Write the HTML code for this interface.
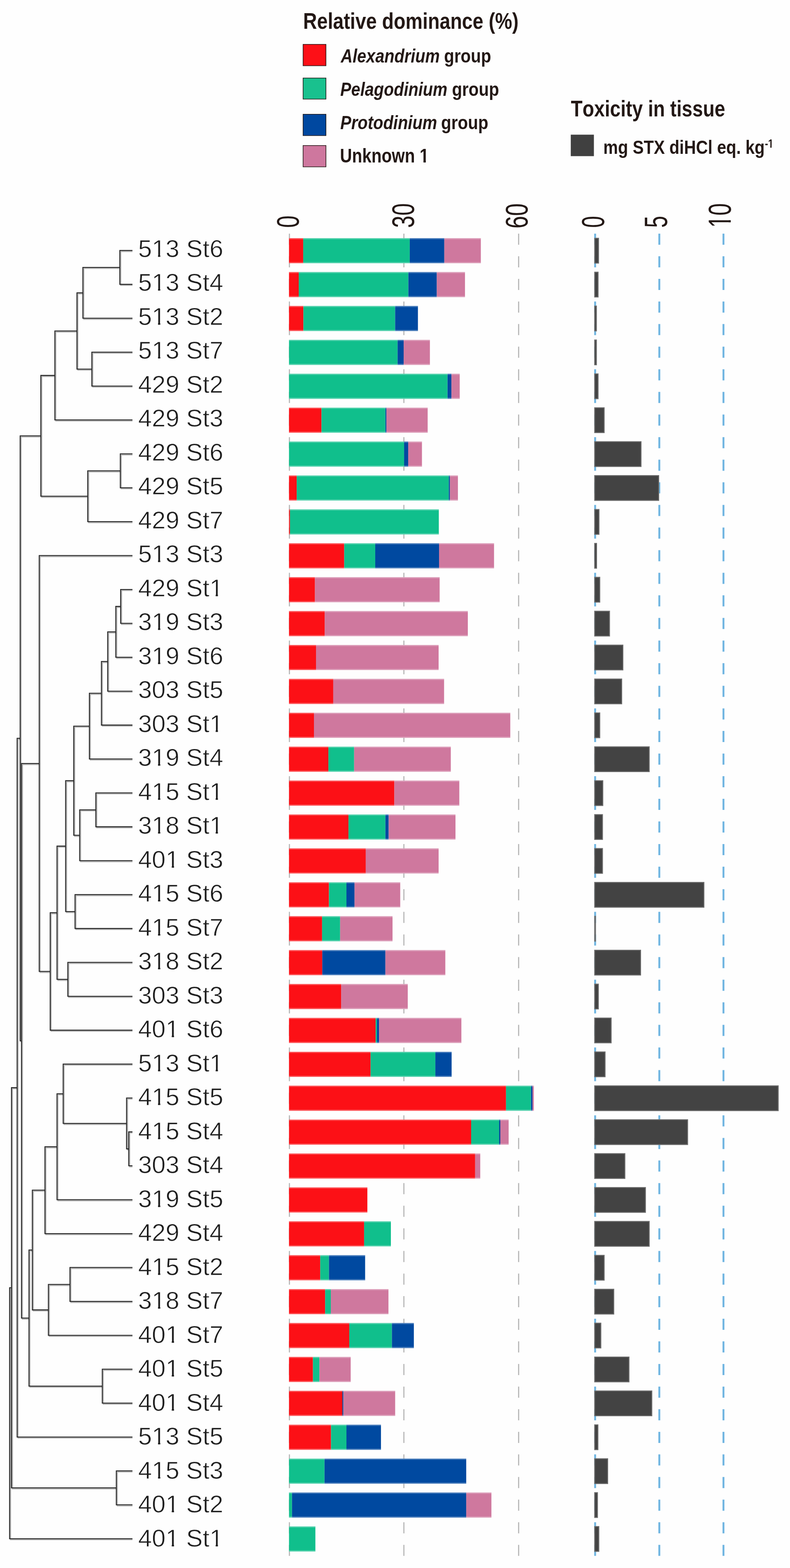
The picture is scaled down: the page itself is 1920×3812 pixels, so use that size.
<!DOCTYPE html><html><head><meta charset="utf-8"><title>Relative dominance and toxicity</title><style>html,body{margin:0;padding:0;background:#fefefe;}svg{display:block;}text{font-kerning:none;}</style></head><body>
<svg width="1920" height="3812" viewBox="0 0 1920 3812">
<rect width="1920" height="3812" fill="#fefefe"/>
<g transform="translate(736.78,69.80) scale(0.8404,1)"><text x="0" y="0" font-family='"Liberation Sans", Arial, sans-serif' font-size="55.5" font-weight="bold" font-style="normal" fill="#231815">Relative dominance (%)</text></g>
<rect x="736.6" y="107.9" width="55.6" height="51.9" fill="#fd1017" stroke="#231815" stroke-width="1.5"/>
<rect x="736.6" y="189.7" width="55.6" height="51.2" fill="#19c18e" stroke="#231815" stroke-width="1.5"/>
<rect x="736.6" y="277.8" width="55.6" height="51.8" fill="#0048a0" stroke="#231815" stroke-width="1.5"/>
<rect x="736.6" y="353.8" width="55.6" height="51.8" fill="#ce779e" stroke="#231815" stroke-width="1.5"/>
<g transform="translate(828.31,151.90) scale(0.8449,1)"><text x="0" y="0" font-family='"Liberation Sans", Arial, sans-serif' font-size="47" font-weight="bold" font-style="italic" fill="#231815">Alexandrium</text></g>
<g transform="translate(1079.24,151.90) scale(0.8586,1)"><text x="0" y="0" font-family='"Liberation Sans", Arial, sans-serif' font-size="47" font-weight="bold" font-style="normal" fill="#231815">group</text></g>
<g transform="translate(827.10,233.20) scale(0.8446,1)"><text x="0" y="0" font-family='"Liberation Sans", Arial, sans-serif' font-size="47" font-weight="bold" font-style="italic" fill="#231815">Pelagodinium</text></g>
<g transform="translate(1098.44,233.20) scale(0.8594,1)"><text x="0" y="0" font-family='"Liberation Sans", Arial, sans-serif' font-size="47" font-weight="bold" font-style="normal" fill="#231815">group</text></g>
<g transform="translate(827.10,313.80) scale(0.8505,1)"><text x="0" y="0" font-family='"Liberation Sans", Arial, sans-serif' font-size="47" font-weight="bold" font-style="italic" fill="#231815">Protodinium</text></g>
<g transform="translate(1071.94,313.80) scale(0.8625,1)"><text x="0" y="0" font-family='"Liberation Sans", Arial, sans-serif' font-size="47" font-weight="bold" font-style="normal" fill="#231815">group</text></g>
<g transform="translate(826.27,395.30) scale(0.8528,1)"><text x="0" y="0" font-family='"Liberation Sans", Arial, sans-serif' font-size="47.5" font-weight="bold" font-style="normal" fill="#231815">Unknown 1</text><rect x="229.01" y="-5.92" width="8.91" height="6.92" fill="#fefefe"/><rect x="244.62" y="-5.92" width="9.21" height="6.92" fill="#fefefe"/></g>
<g transform="translate(1387.48,282.90) scale(0.8434,1)"><text x="0" y="0" font-family='"Liberation Sans", Arial, sans-serif' font-size="54.8" font-weight="bold" font-style="normal" fill="#231815">Toxicity in tissue</text></g>
<rect x="1387.2" y="327.4" width="56.2" height="52.2" fill="#404040"/>
<g transform="translate(1466.36,373.70) scale(0.8536,1)"><text x="0" y="0" font-family='"Liberation Sans", Arial, sans-serif' font-size="47" font-weight="bold" font-style="normal" fill="#231815">mg STX diHCl eq. kg</text></g>
<g transform="translate(1858.89,359.10) scale(0.8127,1)"><text x="0" y="0" font-family='"Liberation Sans", Arial, sans-serif' font-size="28.7" font-weight="bold" font-style="normal" fill="#231815">-1</text><rect x="10.82" y="-3.97" width="5.38" height="4.97" fill="#fefefe"/><rect x="20.25" y="-3.97" width="5.56" height="4.97" fill="#fefefe"/></g>
<line x1="703.4" y1="568" x2="703.4" y2="3782.5" stroke="#bababa" stroke-width="2.9" stroke-dasharray="27 27.96"/>
<line x1="981.6" y1="568" x2="981.6" y2="3782.5" stroke="#bababa" stroke-width="2.9" stroke-dasharray="27 27.96"/>
<line x1="1260.5" y1="568" x2="1260.5" y2="3782.5" stroke="#bababa" stroke-width="2.9" stroke-dasharray="27 27.96"/>
<line x1="1446.4" y1="568" x2="1446.4" y2="3782.5" stroke="#70b5e1" stroke-width="4.6" stroke-dasharray="27 27.96"/>
<line x1="1602.4" y1="568" x2="1602.4" y2="3782.5" stroke="#70b5e1" stroke-width="4.6" stroke-dasharray="27 27.96"/>
<line x1="1758.3" y1="568" x2="1758.3" y2="3782.5" stroke="#70b5e1" stroke-width="4.6" stroke-dasharray="27 27.96"/>
<g transform="translate(725.95,553.79) rotate(-90) scale(0.6970,1)"><text x="0" y="0" font-family='"Liberation Sans", Arial, sans-serif' font-size="76.84" fill="#231815">0</text></g>
<g transform="translate(1005.85,553.94) rotate(-90) scale(0.7017,1)"><text x="0" y="0" font-family='"Liberation Sans", Arial, sans-serif' font-size="76.41" fill="#231815">30</text></g>
<g transform="translate(1282.05,555.50) rotate(-90) scale(0.7193,1)"><text x="0" y="0" font-family='"Liberation Sans", Arial, sans-serif' font-size="76.55" fill="#231815">60</text></g>
<g transform="translate(1467.75,553.72) rotate(-90) scale(0.6700,1)"><text x="0" y="0" font-family='"Liberation Sans", Arial, sans-serif' font-size="77.12" fill="#231815">0</text></g>
<g transform="translate(1621.24,553.79) rotate(-90) scale(0.6732,1)"><text x="0" y="0" font-family='"Liberation Sans", Arial, sans-serif' font-size="77.39" fill="#231815">5</text></g>
<g transform="translate(1776.15,553.76) rotate(-90) scale(0.6954,1)"><text x="0" y="0" font-family='"Liberation Sans", Arial, sans-serif' font-size="77.12" fill="#231815">10</text><rect x="4.14" y="-6.95" width="14.99" height="7.95" fill="#fefefe"/><rect x="26.47" y="-6.95" width="16.83" height="7.95" fill="#fefefe"/></g>
<rect x="702.4" y="578.95" width="34.5" height="61.0" fill="#fc1016"/>
<rect x="736.9" y="578.95" width="259.0" height="61.0" fill="#10bf8c"/>
<rect x="995.9" y="578.95" width="83.9" height="61.0" fill="#0049a0"/>
<rect x="1079.8" y="578.95" width="88.8" height="61.0" fill="#cf789e"/>
<rect x="702.4" y="578.95" width="466.2" height="2.8" fill="#fff" opacity="0.28"/>
<rect x="702.4" y="637.15" width="466.2" height="2.8" fill="#fff" opacity="0.28"/>
<rect x="702.4" y="661.37" width="23.6" height="61.0" fill="#fc1016"/>
<rect x="726.0" y="661.37" width="266.5" height="61.0" fill="#10bf8c"/>
<rect x="992.5" y="661.37" width="69.1" height="61.0" fill="#0049a0"/>
<rect x="1061.6" y="661.37" width="68.5" height="61.0" fill="#cf789e"/>
<rect x="702.4" y="661.37" width="427.7" height="2.8" fill="#fff" opacity="0.28"/>
<rect x="702.4" y="719.57" width="427.7" height="2.8" fill="#fff" opacity="0.28"/>
<rect x="702.4" y="743.79" width="35.0" height="61.0" fill="#fc1016"/>
<rect x="737.4" y="743.79" width="223.0" height="61.0" fill="#10bf8c"/>
<rect x="960.4" y="743.79" width="55.3" height="61.0" fill="#0049a0"/>
<rect x="702.4" y="743.79" width="313.3" height="2.8" fill="#fff" opacity="0.28"/>
<rect x="702.4" y="801.99" width="313.3" height="2.8" fill="#fff" opacity="0.28"/>
<rect x="702.4" y="826.21" width="263.9" height="61.0" fill="#10bf8c"/>
<rect x="966.3" y="826.21" width="14.8" height="61.0" fill="#0049a0"/>
<rect x="981.1" y="826.21" width="63.7" height="61.0" fill="#cf789e"/>
<rect x="702.4" y="826.21" width="342.4" height="2.8" fill="#fff" opacity="0.28"/>
<rect x="702.4" y="884.41" width="342.4" height="2.8" fill="#fff" opacity="0.28"/>
<rect x="702.4" y="908.63" width="385.3" height="61.0" fill="#10bf8c"/>
<rect x="1087.7" y="908.63" width="9.4" height="61.0" fill="#0049a0"/>
<rect x="1097.1" y="908.63" width="20.2" height="61.0" fill="#cf789e"/>
<rect x="702.4" y="908.63" width="414.9" height="2.8" fill="#fff" opacity="0.28"/>
<rect x="702.4" y="966.83" width="414.9" height="2.8" fill="#fff" opacity="0.28"/>
<rect x="702.4" y="991.05" width="78.9" height="61.0" fill="#fc1016"/>
<rect x="781.3" y="991.05" width="155.4" height="61.0" fill="#10bf8c"/>
<rect x="936.7" y="991.05" width="2.5" height="61.0" fill="#0049a0"/>
<rect x="939.2" y="991.05" width="100.2" height="61.0" fill="#cf789e"/>
<rect x="702.4" y="991.05" width="337.0" height="2.8" fill="#fff" opacity="0.28"/>
<rect x="702.4" y="1049.25" width="337.0" height="2.8" fill="#fff" opacity="0.28"/>
<rect x="702.4" y="1073.47" width="279.7" height="61.0" fill="#10bf8c"/>
<rect x="982.1" y="1073.47" width="9.9" height="61.0" fill="#0049a0"/>
<rect x="992.0" y="1073.47" width="33.5" height="61.0" fill="#cf789e"/>
<rect x="702.4" y="1073.47" width="323.1" height="2.8" fill="#fff" opacity="0.28"/>
<rect x="702.4" y="1131.67" width="323.1" height="2.8" fill="#fff" opacity="0.28"/>
<rect x="702.4" y="1155.89" width="18.7" height="61.0" fill="#fc1016"/>
<rect x="721.1" y="1155.89" width="369.6" height="61.0" fill="#10bf8c"/>
<rect x="1090.7" y="1155.89" width="2.9" height="61.0" fill="#0049a0"/>
<rect x="1093.6" y="1155.89" width="19.3" height="61.0" fill="#cf789e"/>
<rect x="702.4" y="1155.89" width="410.5" height="2.8" fill="#fff" opacity="0.28"/>
<rect x="702.4" y="1214.09" width="410.5" height="2.8" fill="#fff" opacity="0.28"/>
<rect x="702.4" y="1238.31" width="2.4" height="61.0" fill="#fc1016"/>
<rect x="704.8" y="1238.31" width="361.7" height="61.0" fill="#10bf8c"/>
<rect x="702.4" y="1238.31" width="364.1" height="2.8" fill="#fff" opacity="0.28"/>
<rect x="702.4" y="1296.51" width="364.1" height="2.8" fill="#fff" opacity="0.28"/>
<rect x="702.4" y="1320.73" width="134.2" height="61.0" fill="#fc1016"/>
<rect x="836.6" y="1320.73" width="75.4" height="61.0" fill="#10bf8c"/>
<rect x="912.0" y="1320.73" width="155.0" height="61.0" fill="#0049a0"/>
<rect x="1067.0" y="1320.73" width="133.7" height="61.0" fill="#cf789e"/>
<rect x="702.4" y="1320.73" width="498.3" height="2.8" fill="#fff" opacity="0.28"/>
<rect x="702.4" y="1378.93" width="498.3" height="2.8" fill="#fff" opacity="0.28"/>
<rect x="702.4" y="1403.15" width="63.1" height="61.0" fill="#fc1016"/>
<rect x="765.5" y="1403.15" width="303.0" height="61.0" fill="#cf789e"/>
<rect x="702.4" y="1403.15" width="366.1" height="2.8" fill="#fff" opacity="0.28"/>
<rect x="702.4" y="1461.35" width="366.1" height="2.8" fill="#fff" opacity="0.28"/>
<rect x="702.4" y="1485.57" width="86.8" height="61.0" fill="#fc1016"/>
<rect x="789.2" y="1485.57" width="347.8" height="61.0" fill="#cf789e"/>
<rect x="702.4" y="1485.57" width="434.6" height="2.8" fill="#fff" opacity="0.28"/>
<rect x="702.4" y="1543.77" width="434.6" height="2.8" fill="#fff" opacity="0.28"/>
<rect x="702.4" y="1567.99" width="65.6" height="61.0" fill="#fc1016"/>
<rect x="768.0" y="1567.99" width="298.0" height="61.0" fill="#cf789e"/>
<rect x="702.4" y="1567.99" width="363.6" height="2.8" fill="#fff" opacity="0.28"/>
<rect x="702.4" y="1626.19" width="363.6" height="2.8" fill="#fff" opacity="0.28"/>
<rect x="702.4" y="1650.41" width="107.5" height="61.0" fill="#fc1016"/>
<rect x="809.9" y="1650.41" width="269.4" height="61.0" fill="#cf789e"/>
<rect x="702.4" y="1650.41" width="376.9" height="2.8" fill="#fff" opacity="0.28"/>
<rect x="702.4" y="1708.61" width="376.9" height="2.8" fill="#fff" opacity="0.28"/>
<rect x="702.4" y="1732.83" width="60.6" height="61.0" fill="#fc1016"/>
<rect x="763.0" y="1732.83" width="477.2" height="61.0" fill="#cf789e"/>
<rect x="702.4" y="1732.83" width="537.8" height="2.8" fill="#fff" opacity="0.28"/>
<rect x="702.4" y="1791.03" width="537.8" height="2.8" fill="#fff" opacity="0.28"/>
<rect x="702.4" y="1815.25" width="95.7" height="61.0" fill="#fc1016"/>
<rect x="798.1" y="1815.25" width="62.6" height="61.0" fill="#10bf8c"/>
<rect x="860.7" y="1815.25" width="234.9" height="61.0" fill="#cf789e"/>
<rect x="702.4" y="1815.25" width="393.2" height="2.8" fill="#fff" opacity="0.28"/>
<rect x="702.4" y="1873.45" width="393.2" height="2.8" fill="#fff" opacity="0.28"/>
<rect x="702.4" y="1897.67" width="256.0" height="61.0" fill="#fc1016"/>
<rect x="958.4" y="1897.67" width="157.9" height="61.0" fill="#cf789e"/>
<rect x="702.4" y="1897.67" width="413.9" height="2.8" fill="#fff" opacity="0.28"/>
<rect x="702.4" y="1955.87" width="413.9" height="2.8" fill="#fff" opacity="0.28"/>
<rect x="702.4" y="1980.09" width="144.5" height="61.0" fill="#fc1016"/>
<rect x="846.9" y="1980.09" width="89.8" height="61.0" fill="#10bf8c"/>
<rect x="936.7" y="1980.09" width="7.9" height="61.0" fill="#0049a0"/>
<rect x="944.6" y="1980.09" width="162.4" height="61.0" fill="#cf789e"/>
<rect x="702.4" y="1980.09" width="404.6" height="2.8" fill="#fff" opacity="0.28"/>
<rect x="702.4" y="2038.29" width="404.6" height="2.8" fill="#fff" opacity="0.28"/>
<rect x="702.4" y="2062.51" width="186.5" height="61.0" fill="#fc1016"/>
<rect x="888.9" y="2062.51" width="177.1" height="61.0" fill="#cf789e"/>
<rect x="702.4" y="2062.51" width="363.6" height="2.8" fill="#fff" opacity="0.28"/>
<rect x="702.4" y="2120.71" width="363.6" height="2.8" fill="#fff" opacity="0.28"/>
<rect x="702.4" y="2144.93" width="97.1" height="61.0" fill="#fc1016"/>
<rect x="799.5" y="2144.93" width="42.5" height="61.0" fill="#10bf8c"/>
<rect x="842.0" y="2144.93" width="19.7" height="61.0" fill="#0049a0"/>
<rect x="861.7" y="2144.93" width="111.0" height="61.0" fill="#cf789e"/>
<rect x="702.4" y="2144.93" width="270.3" height="2.8" fill="#fff" opacity="0.28"/>
<rect x="702.4" y="2203.13" width="270.3" height="2.8" fill="#fff" opacity="0.28"/>
<rect x="702.4" y="2227.35" width="80.4" height="61.0" fill="#fc1016"/>
<rect x="782.8" y="2227.35" width="43.9" height="61.0" fill="#10bf8c"/>
<rect x="826.7" y="2227.35" width="127.3" height="61.0" fill="#cf789e"/>
<rect x="702.4" y="2227.35" width="251.6" height="2.8" fill="#fff" opacity="0.28"/>
<rect x="702.4" y="2285.55" width="251.6" height="2.8" fill="#fff" opacity="0.28"/>
<rect x="702.4" y="2309.77" width="80.9" height="61.0" fill="#fc1016"/>
<rect x="783.3" y="2309.77" width="153.4" height="61.0" fill="#0049a0"/>
<rect x="936.7" y="2309.77" width="145.6" height="61.0" fill="#cf789e"/>
<rect x="702.4" y="2309.77" width="379.9" height="2.8" fill="#fff" opacity="0.28"/>
<rect x="702.4" y="2367.97" width="379.9" height="2.8" fill="#fff" opacity="0.28"/>
<rect x="702.4" y="2392.19" width="126.7" height="61.0" fill="#fc1016"/>
<rect x="829.1" y="2392.19" width="161.9" height="61.0" fill="#cf789e"/>
<rect x="702.4" y="2392.19" width="288.6" height="2.8" fill="#fff" opacity="0.28"/>
<rect x="702.4" y="2450.39" width="288.6" height="2.8" fill="#fff" opacity="0.28"/>
<rect x="702.4" y="2474.61" width="210.5" height="61.0" fill="#fc1016"/>
<rect x="912.9" y="2474.61" width="3.2" height="61.0" fill="#10bf8c"/>
<rect x="916.1" y="2474.61" width="4.9" height="61.0" fill="#0049a0"/>
<rect x="921.0" y="2474.61" width="200.3" height="61.0" fill="#cf789e"/>
<rect x="702.4" y="2474.61" width="418.9" height="2.8" fill="#fff" opacity="0.28"/>
<rect x="702.4" y="2532.81" width="418.9" height="2.8" fill="#fff" opacity="0.28"/>
<rect x="702.4" y="2557.03" width="198.3" height="61.0" fill="#fc1016"/>
<rect x="900.7" y="2557.03" width="157.4" height="61.0" fill="#10bf8c"/>
<rect x="1058.1" y="2557.03" width="39.5" height="61.0" fill="#0049a0"/>
<rect x="702.4" y="2557.03" width="395.2" height="2.8" fill="#fff" opacity="0.28"/>
<rect x="702.4" y="2615.23" width="395.2" height="2.8" fill="#fff" opacity="0.28"/>
<rect x="702.4" y="2639.45" width="527.4" height="61.0" fill="#fc1016"/>
<rect x="1229.8" y="2639.45" width="60.7" height="61.0" fill="#10bf8c"/>
<rect x="1290.5" y="2639.45" width="3.5" height="61.0" fill="#0049a0"/>
<rect x="1294.0" y="2639.45" width="3.4" height="61.0" fill="#cf789e"/>
<rect x="702.4" y="2639.45" width="595.0" height="2.8" fill="#fff" opacity="0.28"/>
<rect x="702.4" y="2697.65" width="595.0" height="2.8" fill="#fff" opacity="0.28"/>
<rect x="702.4" y="2721.87" width="442.6" height="61.0" fill="#fc1016"/>
<rect x="1145.0" y="2721.87" width="68.0" height="61.0" fill="#10bf8c"/>
<rect x="1213.0" y="2721.87" width="3.0" height="61.0" fill="#0049a0"/>
<rect x="1216.0" y="2721.87" width="20.2" height="61.0" fill="#cf789e"/>
<rect x="702.4" y="2721.87" width="533.8" height="2.8" fill="#fff" opacity="0.28"/>
<rect x="702.4" y="2780.07" width="533.8" height="2.8" fill="#fff" opacity="0.28"/>
<rect x="702.4" y="2804.29" width="452.4" height="61.0" fill="#fc1016"/>
<rect x="1154.8" y="2804.29" width="12.4" height="61.0" fill="#cf789e"/>
<rect x="702.4" y="2804.29" width="464.8" height="2.8" fill="#fff" opacity="0.28"/>
<rect x="702.4" y="2862.49" width="464.8" height="2.8" fill="#fff" opacity="0.28"/>
<rect x="702.4" y="2886.71" width="190.4" height="61.0" fill="#fc1016"/>
<rect x="702.4" y="2886.71" width="190.4" height="2.8" fill="#fff" opacity="0.28"/>
<rect x="702.4" y="2944.91" width="190.4" height="2.8" fill="#fff" opacity="0.28"/>
<rect x="702.4" y="2969.13" width="182.5" height="61.0" fill="#fc1016"/>
<rect x="884.9" y="2969.13" width="65.1" height="61.0" fill="#10bf8c"/>
<rect x="702.4" y="2969.13" width="247.6" height="2.8" fill="#fff" opacity="0.28"/>
<rect x="702.4" y="3027.33" width="247.6" height="2.8" fill="#fff" opacity="0.28"/>
<rect x="702.4" y="3051.55" width="75.9" height="61.0" fill="#fc1016"/>
<rect x="778.3" y="3051.55" width="21.2" height="61.0" fill="#10bf8c"/>
<rect x="799.5" y="3051.55" width="87.9" height="61.0" fill="#0049a0"/>
<rect x="702.4" y="3051.55" width="185.0" height="2.8" fill="#fff" opacity="0.28"/>
<rect x="702.4" y="3109.75" width="185.0" height="2.8" fill="#fff" opacity="0.28"/>
<rect x="702.4" y="3133.97" width="87.8" height="61.0" fill="#fc1016"/>
<rect x="790.2" y="3133.97" width="13.8" height="61.0" fill="#10bf8c"/>
<rect x="804.0" y="3133.97" width="140.1" height="61.0" fill="#cf789e"/>
<rect x="702.4" y="3133.97" width="241.7" height="2.8" fill="#fff" opacity="0.28"/>
<rect x="702.4" y="3192.17" width="241.7" height="2.8" fill="#fff" opacity="0.28"/>
<rect x="702.4" y="3216.39" width="146.5" height="61.0" fill="#fc1016"/>
<rect x="848.9" y="3216.39" width="103.6" height="61.0" fill="#10bf8c"/>
<rect x="952.5" y="3216.39" width="53.3" height="61.0" fill="#0049a0"/>
<rect x="702.4" y="3216.39" width="303.4" height="2.8" fill="#fff" opacity="0.28"/>
<rect x="702.4" y="3274.59" width="303.4" height="2.8" fill="#fff" opacity="0.28"/>
<rect x="702.4" y="3298.81" width="58.2" height="61.0" fill="#fc1016"/>
<rect x="760.6" y="3298.81" width="15.8" height="61.0" fill="#10bf8c"/>
<rect x="776.4" y="3298.81" width="75.9" height="61.0" fill="#cf789e"/>
<rect x="702.4" y="3298.81" width="149.9" height="2.8" fill="#fff" opacity="0.28"/>
<rect x="702.4" y="3357.01" width="149.9" height="2.8" fill="#fff" opacity="0.28"/>
<rect x="702.4" y="3381.23" width="129.7" height="61.0" fill="#fc1016"/>
<rect x="832.1" y="3381.23" width="2.5" height="61.0" fill="#0049a0"/>
<rect x="834.6" y="3381.23" width="125.8" height="61.0" fill="#cf789e"/>
<rect x="702.4" y="3381.23" width="258.0" height="2.8" fill="#fff" opacity="0.28"/>
<rect x="702.4" y="3439.43" width="258.0" height="2.8" fill="#fff" opacity="0.28"/>
<rect x="702.4" y="3463.65" width="102.1" height="61.0" fill="#fc1016"/>
<rect x="804.5" y="3463.65" width="37.5" height="61.0" fill="#10bf8c"/>
<rect x="842.0" y="3463.65" width="83.9" height="61.0" fill="#0049a0"/>
<rect x="702.4" y="3463.65" width="223.5" height="2.8" fill="#fff" opacity="0.28"/>
<rect x="702.4" y="3521.85" width="223.5" height="2.8" fill="#fff" opacity="0.28"/>
<rect x="702.4" y="3546.07" width="86.3" height="61.0" fill="#10bf8c"/>
<rect x="788.7" y="3546.07" width="344.4" height="61.0" fill="#0049a0"/>
<rect x="702.4" y="3546.07" width="430.7" height="2.8" fill="#fff" opacity="0.28"/>
<rect x="702.4" y="3604.27" width="430.7" height="2.8" fill="#fff" opacity="0.28"/>
<rect x="702.4" y="3628.49" width="7.3" height="61.0" fill="#10bf8c"/>
<rect x="709.7" y="3628.49" width="423.4" height="61.0" fill="#0049a0"/>
<rect x="1133.1" y="3628.49" width="61.2" height="61.0" fill="#cf789e"/>
<rect x="702.4" y="3628.49" width="491.9" height="2.8" fill="#fff" opacity="0.28"/>
<rect x="702.4" y="3686.69" width="491.9" height="2.8" fill="#fff" opacity="0.28"/>
<rect x="702.4" y="3710.91" width="64.1" height="61.0" fill="#10bf8c"/>
<rect x="702.4" y="3710.91" width="64.1" height="2.8" fill="#fff" opacity="0.28"/>
<rect x="702.4" y="3769.11" width="64.1" height="2.8" fill="#fff" opacity="0.28"/>
<rect x="1445.3" y="579.25" width="9.4" height="60.4" fill="#434343" stroke="#6c6c6c" stroke-width="2.2"/>
<rect x="1445.3" y="661.67" width="8.3" height="60.4" fill="#434343" stroke="#6c6c6c" stroke-width="2.2"/>
<rect x="1445.3" y="744.09" width="4.2" height="60.4" fill="#434343" stroke="#6c6c6c" stroke-width="2.2"/>
<rect x="1445.3" y="826.51" width="4.2" height="60.4" fill="#434343" stroke="#6c6c6c" stroke-width="2.2"/>
<rect x="1445.3" y="908.93" width="8.3" height="60.4" fill="#434343" stroke="#6c6c6c" stroke-width="2.2"/>
<rect x="1445.3" y="991.35" width="23.1" height="60.4" fill="#434343" stroke="#6c6c6c" stroke-width="2.2"/>
<rect x="1445.3" y="1073.77" width="112.7" height="60.4" fill="#434343" stroke="#6c6c6c" stroke-width="2.2"/>
<rect x="1445.3" y="1156.19" width="155.6" height="60.4" fill="#434343" stroke="#6c6c6c" stroke-width="2.2"/>
<rect x="1445.3" y="1238.61" width="10.5" height="60.4" fill="#434343" stroke="#6c6c6c" stroke-width="2.2"/>
<rect x="1445.3" y="1321.03" width="4.6" height="60.4" fill="#434343" stroke="#6c6c6c" stroke-width="2.2"/>
<rect x="1445.3" y="1403.45" width="12.4" height="60.4" fill="#434343" stroke="#6c6c6c" stroke-width="2.2"/>
<rect x="1445.3" y="1485.87" width="36.1" height="60.4" fill="#434343" stroke="#6c6c6c" stroke-width="2.2"/>
<rect x="1445.3" y="1568.29" width="68.6" height="60.4" fill="#434343" stroke="#6c6c6c" stroke-width="2.2"/>
<rect x="1445.3" y="1650.71" width="65.7" height="60.4" fill="#434343" stroke="#6c6c6c" stroke-width="2.2"/>
<rect x="1445.3" y="1733.13" width="12.4" height="60.4" fill="#434343" stroke="#6c6c6c" stroke-width="2.2"/>
<rect x="1445.3" y="1815.55" width="132.6" height="60.4" fill="#434343" stroke="#6c6c6c" stroke-width="2.2"/>
<rect x="1445.3" y="1897.97" width="19.8" height="60.4" fill="#434343" stroke="#6c6c6c" stroke-width="2.2"/>
<rect x="1445.3" y="1980.39" width="19.0" height="60.4" fill="#434343" stroke="#6c6c6c" stroke-width="2.2"/>
<rect x="1445.3" y="2062.81" width="19.0" height="60.4" fill="#434343" stroke="#6c6c6c" stroke-width="2.2"/>
<rect x="1445.3" y="2145.23" width="265.5" height="60.4" fill="#434343" stroke="#6c6c6c" stroke-width="2.2"/>
<rect x="1445.3" y="2227.65" width="2.0" height="60.4" fill="#434343" stroke="#6c6c6c" stroke-width="2.2"/>
<rect x="1445.3" y="2310.07" width="111.6" height="60.4" fill="#434343" stroke="#6c6c6c" stroke-width="2.2"/>
<rect x="1445.3" y="2392.49" width="9.0" height="60.4" fill="#434343" stroke="#6c6c6c" stroke-width="2.2"/>
<rect x="1445.3" y="2474.91" width="40.1" height="60.4" fill="#434343" stroke="#6c6c6c" stroke-width="2.2"/>
<rect x="1445.3" y="2557.33" width="25.3" height="60.4" fill="#434343" stroke="#6c6c6c" stroke-width="2.2"/>
<rect x="1445.3" y="2639.75" width="446.1" height="60.4" fill="#434343" stroke="#6c6c6c" stroke-width="2.2"/>
<rect x="1445.3" y="2722.17" width="225.9" height="60.4" fill="#434343" stroke="#6c6c6c" stroke-width="2.2"/>
<rect x="1445.3" y="2804.59" width="73.4" height="60.4" fill="#434343" stroke="#6c6c6c" stroke-width="2.2"/>
<rect x="1445.3" y="2887.01" width="123.4" height="60.4" fill="#434343" stroke="#6c6c6c" stroke-width="2.2"/>
<rect x="1445.3" y="2969.43" width="132.6" height="60.4" fill="#434343" stroke="#6c6c6c" stroke-width="2.2"/>
<rect x="1445.3" y="3051.85" width="23.1" height="60.4" fill="#434343" stroke="#6c6c6c" stroke-width="2.2"/>
<rect x="1445.3" y="3134.27" width="46.4" height="60.4" fill="#434343" stroke="#6c6c6c" stroke-width="2.2"/>
<rect x="1445.3" y="3216.69" width="15.0" height="60.4" fill="#434343" stroke="#6c6c6c" stroke-width="2.2"/>
<rect x="1445.3" y="3299.11" width="83.4" height="60.4" fill="#434343" stroke="#6c6c6c" stroke-width="2.2"/>
<rect x="1445.3" y="3381.53" width="138.9" height="60.4" fill="#434343" stroke="#6c6c6c" stroke-width="2.2"/>
<rect x="1445.3" y="3463.95" width="7.9" height="60.4" fill="#434343" stroke="#6c6c6c" stroke-width="2.2"/>
<rect x="1445.3" y="3546.37" width="31.6" height="60.4" fill="#434343" stroke="#6c6c6c" stroke-width="2.2"/>
<rect x="1445.3" y="3628.79" width="6.8" height="60.4" fill="#434343" stroke="#6c6c6c" stroke-width="2.2"/>
<rect x="1445.3" y="3711.21" width="10.1" height="60.4" fill="#434343" stroke="#6c6c6c" stroke-width="2.2"/>
<text x="335.7" y="624.50" font-family='"Liberation Sans", Arial, sans-serif' font-size="60" fill="#1e1e1e" stroke="#fefefe" stroke-width="0.9" paint-order="fill">513 St6</text>
<text x="335.7" y="707.00" font-family='"Liberation Sans", Arial, sans-serif' font-size="60" fill="#1e1e1e" stroke="#fefefe" stroke-width="0.9" paint-order="fill">513 St4</text>
<text x="335.7" y="789.50" font-family='"Liberation Sans", Arial, sans-serif' font-size="60" fill="#1e1e1e" stroke="#fefefe" stroke-width="0.9" paint-order="fill">513 St2</text>
<text x="335.7" y="872.00" font-family='"Liberation Sans", Arial, sans-serif' font-size="60" fill="#1e1e1e" stroke="#fefefe" stroke-width="0.9" paint-order="fill">513 St7</text>
<text x="335.7" y="954.50" font-family='"Liberation Sans", Arial, sans-serif' font-size="60" fill="#1e1e1e" stroke="#fefefe" stroke-width="0.9" paint-order="fill">429 St2</text>
<text x="335.7" y="1037.00" font-family='"Liberation Sans", Arial, sans-serif' font-size="60" fill="#1e1e1e" stroke="#fefefe" stroke-width="0.9" paint-order="fill">429 St3</text>
<text x="335.7" y="1119.50" font-family='"Liberation Sans", Arial, sans-serif' font-size="60" fill="#1e1e1e" stroke="#fefefe" stroke-width="0.9" paint-order="fill">429 St6</text>
<text x="335.7" y="1202.00" font-family='"Liberation Sans", Arial, sans-serif' font-size="60" fill="#1e1e1e" stroke="#fefefe" stroke-width="0.9" paint-order="fill">429 St5</text>
<text x="335.7" y="1284.50" font-family='"Liberation Sans", Arial, sans-serif' font-size="60" fill="#1e1e1e" stroke="#fefefe" stroke-width="0.9" paint-order="fill">429 St7</text>
<text x="335.7" y="1367.00" font-family='"Liberation Sans", Arial, sans-serif' font-size="60" fill="#1e1e1e" stroke="#fefefe" stroke-width="0.9" paint-order="fill">513 St3</text>
<text x="335.7" y="1449.50" font-family='"Liberation Sans", Arial, sans-serif' font-size="60" fill="#1e1e1e" stroke="#fefefe" stroke-width="0.9" paint-order="fill">429 St1</text>
<text x="335.7" y="1532.00" font-family='"Liberation Sans", Arial, sans-serif' font-size="60" fill="#1e1e1e" stroke="#fefefe" stroke-width="0.9" paint-order="fill">319 St3</text>
<text x="335.7" y="1614.50" font-family='"Liberation Sans", Arial, sans-serif' font-size="60" fill="#1e1e1e" stroke="#fefefe" stroke-width="0.9" paint-order="fill">319 St6</text>
<text x="335.7" y="1697.00" font-family='"Liberation Sans", Arial, sans-serif' font-size="60" fill="#1e1e1e" stroke="#fefefe" stroke-width="0.9" paint-order="fill">303 St5</text>
<text x="335.7" y="1779.50" font-family='"Liberation Sans", Arial, sans-serif' font-size="60" fill="#1e1e1e" stroke="#fefefe" stroke-width="0.9" paint-order="fill">303 St1</text>
<text x="335.7" y="1862.00" font-family='"Liberation Sans", Arial, sans-serif' font-size="60" fill="#1e1e1e" stroke="#fefefe" stroke-width="0.9" paint-order="fill">319 St4</text>
<text x="335.7" y="1944.50" font-family='"Liberation Sans", Arial, sans-serif' font-size="60" fill="#1e1e1e" stroke="#fefefe" stroke-width="0.9" paint-order="fill">415 St1</text>
<text x="335.7" y="2027.00" font-family='"Liberation Sans", Arial, sans-serif' font-size="60" fill="#1e1e1e" stroke="#fefefe" stroke-width="0.9" paint-order="fill">318 St1</text>
<text x="335.7" y="2109.50" font-family='"Liberation Sans", Arial, sans-serif' font-size="60" fill="#1e1e1e" stroke="#fefefe" stroke-width="0.9" paint-order="fill">401 St3</text>
<text x="335.7" y="2192.00" font-family='"Liberation Sans", Arial, sans-serif' font-size="60" fill="#1e1e1e" stroke="#fefefe" stroke-width="0.9" paint-order="fill">415 St6</text>
<text x="335.7" y="2274.50" font-family='"Liberation Sans", Arial, sans-serif' font-size="60" fill="#1e1e1e" stroke="#fefefe" stroke-width="0.9" paint-order="fill">415 St7</text>
<text x="335.7" y="2357.00" font-family='"Liberation Sans", Arial, sans-serif' font-size="60" fill="#1e1e1e" stroke="#fefefe" stroke-width="0.9" paint-order="fill">318 St2</text>
<text x="335.7" y="2439.50" font-family='"Liberation Sans", Arial, sans-serif' font-size="60" fill="#1e1e1e" stroke="#fefefe" stroke-width="0.9" paint-order="fill">303 St3</text>
<text x="335.7" y="2522.00" font-family='"Liberation Sans", Arial, sans-serif' font-size="60" fill="#1e1e1e" stroke="#fefefe" stroke-width="0.9" paint-order="fill">401 St6</text>
<text x="335.7" y="2604.50" font-family='"Liberation Sans", Arial, sans-serif' font-size="60" fill="#1e1e1e" stroke="#fefefe" stroke-width="0.9" paint-order="fill">513 St1</text>
<text x="335.7" y="2687.00" font-family='"Liberation Sans", Arial, sans-serif' font-size="60" fill="#1e1e1e" stroke="#fefefe" stroke-width="0.9" paint-order="fill">415 St5</text>
<text x="335.7" y="2769.50" font-family='"Liberation Sans", Arial, sans-serif' font-size="60" fill="#1e1e1e" stroke="#fefefe" stroke-width="0.9" paint-order="fill">415 St4</text>
<text x="335.7" y="2852.00" font-family='"Liberation Sans", Arial, sans-serif' font-size="60" fill="#1e1e1e" stroke="#fefefe" stroke-width="0.9" paint-order="fill">303 St4</text>
<text x="335.7" y="2934.50" font-family='"Liberation Sans", Arial, sans-serif' font-size="60" fill="#1e1e1e" stroke="#fefefe" stroke-width="0.9" paint-order="fill">319 St5</text>
<text x="335.7" y="3017.00" font-family='"Liberation Sans", Arial, sans-serif' font-size="60" fill="#1e1e1e" stroke="#fefefe" stroke-width="0.9" paint-order="fill">429 St4</text>
<text x="335.7" y="3099.50" font-family='"Liberation Sans", Arial, sans-serif' font-size="60" fill="#1e1e1e" stroke="#fefefe" stroke-width="0.9" paint-order="fill">415 St2</text>
<text x="335.7" y="3182.00" font-family='"Liberation Sans", Arial, sans-serif' font-size="60" fill="#1e1e1e" stroke="#fefefe" stroke-width="0.9" paint-order="fill">318 St7</text>
<text x="335.7" y="3264.50" font-family='"Liberation Sans", Arial, sans-serif' font-size="60" fill="#1e1e1e" stroke="#fefefe" stroke-width="0.9" paint-order="fill">401 St7</text>
<text x="335.7" y="3347.00" font-family='"Liberation Sans", Arial, sans-serif' font-size="60" fill="#1e1e1e" stroke="#fefefe" stroke-width="0.9" paint-order="fill">401 St5</text>
<text x="335.7" y="3429.50" font-family='"Liberation Sans", Arial, sans-serif' font-size="60" fill="#1e1e1e" stroke="#fefefe" stroke-width="0.9" paint-order="fill">401 St4</text>
<text x="335.7" y="3512.00" font-family='"Liberation Sans", Arial, sans-serif' font-size="60" fill="#1e1e1e" stroke="#fefefe" stroke-width="0.9" paint-order="fill">513 St5</text>
<text x="335.7" y="3594.50" font-family='"Liberation Sans", Arial, sans-serif' font-size="60" fill="#1e1e1e" stroke="#fefefe" stroke-width="0.9" paint-order="fill">415 St3</text>
<text x="335.7" y="3677.00" font-family='"Liberation Sans", Arial, sans-serif' font-size="60" fill="#1e1e1e" stroke="#fefefe" stroke-width="0.9" paint-order="fill">401 St2</text>
<text x="335.7" y="3759.50" font-family='"Liberation Sans", Arial, sans-serif' font-size="60" fill="#1e1e1e" stroke="#fefefe" stroke-width="0.9" paint-order="fill">401 St1</text>
<rect x="372.73" y="618.73" width="11.28" height="6.97" fill="#fefefe"/>
<rect x="389.61" y="618.73" width="11.69" height="6.97" fill="#fefefe"/>
<rect x="372.73" y="701.23" width="11.28" height="6.97" fill="#fefefe"/>
<rect x="389.61" y="701.23" width="11.69" height="6.97" fill="#fefefe"/>
<rect x="372.73" y="783.73" width="11.28" height="6.97" fill="#fefefe"/>
<rect x="389.61" y="783.73" width="11.69" height="6.97" fill="#fefefe"/>
<rect x="372.73" y="866.23" width="11.28" height="6.97" fill="#fefefe"/>
<rect x="389.61" y="866.23" width="11.69" height="6.97" fill="#fefefe"/>
<rect x="372.73" y="1361.23" width="11.28" height="6.97" fill="#fefefe"/>
<rect x="389.61" y="1361.23" width="11.69" height="6.97" fill="#fefefe"/>
<rect x="512.83" y="1443.73" width="11.28" height="6.97" fill="#fefefe"/>
<rect x="529.70" y="1443.73" width="11.69" height="6.97" fill="#fefefe"/>
<rect x="372.73" y="1526.23" width="11.28" height="6.97" fill="#fefefe"/>
<rect x="389.61" y="1526.23" width="11.69" height="6.97" fill="#fefefe"/>
<rect x="372.73" y="1608.73" width="11.28" height="6.97" fill="#fefefe"/>
<rect x="389.61" y="1608.73" width="11.69" height="6.97" fill="#fefefe"/>
<rect x="512.83" y="1773.73" width="11.28" height="6.97" fill="#fefefe"/>
<rect x="529.70" y="1773.73" width="11.69" height="6.97" fill="#fefefe"/>
<rect x="372.73" y="1856.23" width="11.28" height="6.97" fill="#fefefe"/>
<rect x="389.61" y="1856.23" width="11.69" height="6.97" fill="#fefefe"/>
<rect x="372.73" y="1938.73" width="11.28" height="6.97" fill="#fefefe"/>
<rect x="389.61" y="1938.73" width="11.69" height="6.97" fill="#fefefe"/>
<rect x="512.83" y="1938.73" width="11.28" height="6.97" fill="#fefefe"/>
<rect x="529.70" y="1938.73" width="11.69" height="6.97" fill="#fefefe"/>
<rect x="372.73" y="2021.23" width="11.28" height="6.97" fill="#fefefe"/>
<rect x="389.61" y="2021.23" width="11.69" height="6.97" fill="#fefefe"/>
<rect x="512.83" y="2021.23" width="11.28" height="6.97" fill="#fefefe"/>
<rect x="529.70" y="2021.23" width="11.69" height="6.97" fill="#fefefe"/>
<rect x="406.10" y="2103.73" width="11.28" height="6.97" fill="#fefefe"/>
<rect x="422.98" y="2103.73" width="11.69" height="6.97" fill="#fefefe"/>
<rect x="372.73" y="2186.23" width="11.28" height="6.97" fill="#fefefe"/>
<rect x="389.61" y="2186.23" width="11.69" height="6.97" fill="#fefefe"/>
<rect x="372.73" y="2268.73" width="11.28" height="6.97" fill="#fefefe"/>
<rect x="389.61" y="2268.73" width="11.69" height="6.97" fill="#fefefe"/>
<rect x="372.73" y="2351.23" width="11.28" height="6.97" fill="#fefefe"/>
<rect x="389.61" y="2351.23" width="11.69" height="6.97" fill="#fefefe"/>
<rect x="406.10" y="2516.23" width="11.28" height="6.97" fill="#fefefe"/>
<rect x="422.98" y="2516.23" width="11.69" height="6.97" fill="#fefefe"/>
<rect x="372.73" y="2598.73" width="11.28" height="6.97" fill="#fefefe"/>
<rect x="389.61" y="2598.73" width="11.69" height="6.97" fill="#fefefe"/>
<rect x="512.83" y="2598.73" width="11.28" height="6.97" fill="#fefefe"/>
<rect x="529.70" y="2598.73" width="11.69" height="6.97" fill="#fefefe"/>
<rect x="372.73" y="2681.23" width="11.28" height="6.97" fill="#fefefe"/>
<rect x="389.61" y="2681.23" width="11.69" height="6.97" fill="#fefefe"/>
<rect x="372.73" y="2763.73" width="11.28" height="6.97" fill="#fefefe"/>
<rect x="389.61" y="2763.73" width="11.69" height="6.97" fill="#fefefe"/>
<rect x="372.73" y="2928.73" width="11.28" height="6.97" fill="#fefefe"/>
<rect x="389.61" y="2928.73" width="11.69" height="6.97" fill="#fefefe"/>
<rect x="372.73" y="3093.73" width="11.28" height="6.97" fill="#fefefe"/>
<rect x="389.61" y="3093.73" width="11.69" height="6.97" fill="#fefefe"/>
<rect x="372.73" y="3176.23" width="11.28" height="6.97" fill="#fefefe"/>
<rect x="389.61" y="3176.23" width="11.69" height="6.97" fill="#fefefe"/>
<rect x="406.10" y="3258.73" width="11.28" height="6.97" fill="#fefefe"/>
<rect x="422.98" y="3258.73" width="11.69" height="6.97" fill="#fefefe"/>
<rect x="406.10" y="3341.23" width="11.28" height="6.97" fill="#fefefe"/>
<rect x="422.98" y="3341.23" width="11.69" height="6.97" fill="#fefefe"/>
<rect x="406.10" y="3423.73" width="11.28" height="6.97" fill="#fefefe"/>
<rect x="422.98" y="3423.73" width="11.69" height="6.97" fill="#fefefe"/>
<rect x="372.73" y="3506.23" width="11.28" height="6.97" fill="#fefefe"/>
<rect x="389.61" y="3506.23" width="11.69" height="6.97" fill="#fefefe"/>
<rect x="372.73" y="3588.73" width="11.28" height="6.97" fill="#fefefe"/>
<rect x="389.61" y="3588.73" width="11.69" height="6.97" fill="#fefefe"/>
<rect x="406.10" y="3671.23" width="11.28" height="6.97" fill="#fefefe"/>
<rect x="422.98" y="3671.23" width="11.69" height="6.97" fill="#fefefe"/>
<rect x="406.10" y="3753.73" width="11.28" height="6.97" fill="#fefefe"/>
<rect x="422.98" y="3753.73" width="11.69" height="6.97" fill="#fefefe"/>
<rect x="512.83" y="3753.73" width="11.28" height="6.97" fill="#fefefe"/>
<rect x="529.70" y="3753.73" width="11.69" height="6.97" fill="#fefefe"/>
<path d="M321.90,611.30H293.50V693.72H321.90M293.50,652.51H203.70V776.14H321.90M321.90,858.56H225.50V940.98H321.90M203.70,714.33H189.30V899.77H225.50M189.30,807.05H135.60V1023.40H321.90M321.90,1105.82H294.70V1188.24H321.90M294.70,1147.03H215.50V1270.66H321.90M135.60,915.22H101.50V1208.84H215.50M321.90,1435.50H295.50V1517.92H321.90M295.50,1476.71H283.70V1600.34H321.90M283.70,1538.53H264.00V1682.76H321.90M264.00,1610.64H248.80V1765.18H321.90M248.80,1687.91H219.50V1847.60H321.90M321.90,1930.02H235.20V2012.44H321.90M235.20,1971.23H195.90V2094.86H321.90M219.50,1767.76H181.50V2033.05H195.90M321.90,2177.28H184.60V2259.70H321.90M181.50,1900.40H161.80V2218.49H184.60M321.90,2342.12H167.10V2424.54H321.90M161.80,2059.45H140.80V2383.33H167.10M140.80,2221.39H124.30V2506.96H321.90M321.90,1353.08H97.60V2364.17H124.30M321.90,2754.22H315.20V2836.64H321.90M321.90,2671.80H309.90V2795.43H315.20M321.90,2589.38H155.80V2733.61H309.90M155.80,2661.50H140.80V2919.06H321.90M140.80,2790.28H111.50V3001.48H321.90M321.90,3083.90H172.30V3166.32H321.90M172.30,3125.11H119.90V3248.74H321.90M111.50,2895.88H80.90V3186.93H119.90M321.90,3331.16H250.90V3413.58H321.90M80.90,3041.40H72.70V3372.37H250.90M97.60,1858.63H54.50V3206.89H72.70M101.50,1062.03H51.30V2532.76H54.50M51.30,1797.40H43.90V3496.00H321.90M321.90,3578.42H285.00V3660.84H321.90M43.90,2646.70H30.20V3619.63H285.00M30.20,3133.16H25.60V3743.26H321.90" fill="none" stroke="#b4b4b4" stroke-width="2.7" stroke-linecap="butt"/>
<path d="M321.90,608.85H291.20V691.27H321.90M291.20,650.06H201.40V773.69H321.90M321.90,856.11H223.20V938.53H321.90M201.40,711.88H187.00V897.32H223.20M187.00,804.60H133.30V1020.95H321.90M321.90,1103.37H292.40V1185.79H321.90M292.40,1144.58H213.20V1268.21H321.90M133.30,912.77H99.20V1206.39H213.20M321.90,1433.05H293.20V1515.47H321.90M293.20,1474.26H281.40V1597.89H321.90M281.40,1536.08H261.70V1680.31H321.90M261.70,1608.19H246.50V1762.73H321.90M246.50,1685.46H217.20V1845.15H321.90M321.90,1927.57H232.90V2009.99H321.90M232.90,1968.78H193.60V2092.41H321.90M217.20,1765.31H179.20V2030.60H193.60M321.90,2174.83H182.30V2257.25H321.90M179.20,1897.95H159.50V2216.04H182.30M321.90,2339.67H164.80V2422.09H321.90M159.50,2057.00H138.50V2380.88H164.80M138.50,2218.94H122.00V2504.51H321.90M321.90,1350.63H95.30V2361.72H122.00M321.90,2751.77H312.90V2834.19H321.90M321.90,2669.35H307.60V2792.98H312.90M321.90,2586.93H153.50V2731.16H307.60M153.50,2659.05H138.50V2916.61H321.90M138.50,2787.83H109.20V2999.03H321.90M321.90,3081.45H170.00V3163.87H321.90M170.00,3122.66H117.60V3246.29H321.90M109.20,2893.43H78.60V3184.48H117.60M321.90,3328.71H248.60V3411.13H321.90M78.60,3038.95H70.40V3369.92H248.60M95.30,1856.18H52.20V3204.44H70.40M99.20,1059.58H49.00V2530.31H52.20M49.00,1794.95H41.60V3493.55H321.90M321.90,3575.97H282.70V3658.39H321.90M41.60,2644.25H27.90V3617.18H282.70M27.90,3130.71H23.30V3740.81H321.90" fill="none" stroke="#262626" stroke-width="2.3" stroke-linecap="butt"/>
</svg></body></html>
